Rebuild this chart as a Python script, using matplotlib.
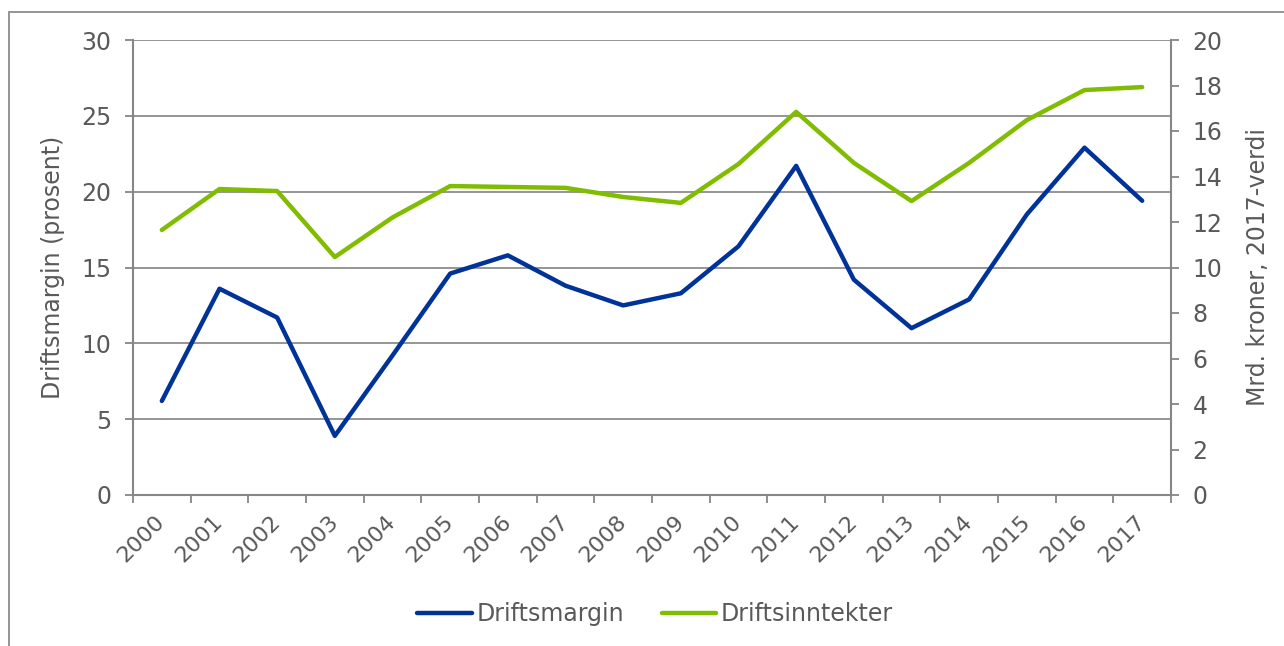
import matplotlib.pyplot as plt
import matplotlib.patches as patches
import numpy as np

years = [str(y) for y in range(2000, 2018)]
driftsmargin = [6.2, 13.6, 11.7, 3.9, 9.2, 14.6, 15.8, 13.8, 12.5, 13.3,
                16.4, 21.7, 14.2, 11.0, 12.9, 18.5, 22.9, 19.4]
driftsinntekter = [11.65, 13.45, 13.36, 10.46, 12.2, 13.58, 13.54, 13.5, 13.1, 12.84,
                   14.55, 16.84, 14.6, 12.92, 14.6, 16.48, 17.8, 17.93]

text_col = '#595959'
axis_col = '#868686'
blue = '#003399'
green = '#80BC00'

plt.rcParams['font.family'] = ['DejaVu Sans']

fig = plt.figure(figsize=(12.84, 6.46), dpi=100)
ax = fig.add_axes([133 / 1284, 1 - 495 / 646, (1171 - 133) / 1284, (495 - 40) / 646])
ax2 = ax.twinx()

x = np.arange(len(years))
l1, = ax.plot(x, driftsmargin, color=blue, lw=3.2, solid_capstyle='round', zorder=3)
l2, = ax2.plot(x, driftsinntekter, color=green, lw=3.2, solid_capstyle='round', zorder=3)

ax.set_xlim(-0.5, len(years) - 0.5)
ax.set_ylim(0, 30)
ax.set_yticks(range(0, 31, 5))
ax2.set_ylim(0, 20)
ax2.set_yticks(range(0, 21, 2))

ax.set_xticks(x)
ax.set_xticklabels(years, rotation=45, ha='right', va='center', rotation_mode='anchor')
ax.set_xticks(np.arange(-0.5, len(years), 1), minor=True)
ax.tick_params(axis='x', which='major', length=0, pad=17)
ax.tick_params(axis='x', which='minor', length=5.5, width=1.3, color=axis_col)
ax.tick_params(axis='x', labelsize=16, colors=text_col, which='major')
ax.tick_params(axis='y', length=5.5, width=1.3, color=axis_col, labelcolor=text_col, labelsize=17, pad=10)
ax2.tick_params(axis='y', length=5.5, width=1.3, color=axis_col, labelcolor=text_col, labelsize=17, pad=10)

ax.yaxis.grid(True, color='#8c8c8c', lw=1.3)
ax.set_axisbelow(True)

for a in (ax, ax2):
    for s in a.spines.values():
        s.set_visible(False)
ax.spines['left'].set_visible(True)
ax.spines['bottom'].set_visible(True)
ax2.spines['right'].set_visible(True)
for s in (ax.spines['left'], ax.spines['bottom'], ax2.spines['right']):
    s.set_color(axis_col)
    s.set_linewidth(1.5)

ax.set_ylabel('Driftsmargin (prosent)', fontsize=17, color=text_col, labelpad=12)
ax2.set_ylabel('Mrd. kroner, 2017-verdi', fontsize=17, color=text_col, labelpad=17)

fig.legend([l1, l2], ['Driftsmargin', 'Driftsinntekter'], loc='center',
           bbox_to_anchor=(655 / 1284, 1 - 614 / 646), ncol=2, frameon=False,
           fontsize=17, labelcolor=text_col, handlelength=2.3, handletextpad=0.2,
           columnspacing=1.6)

fig.patches.append(patches.Rectangle((9 / 1284, -0.1), 1.2, 1 - 12 / 646 + 0.1,
                                     transform=fig.transFigure, fill=False,
                                     edgecolor='#8c8c8c', lw=1.3))

fig.savefig('out.png', dpi=100)
